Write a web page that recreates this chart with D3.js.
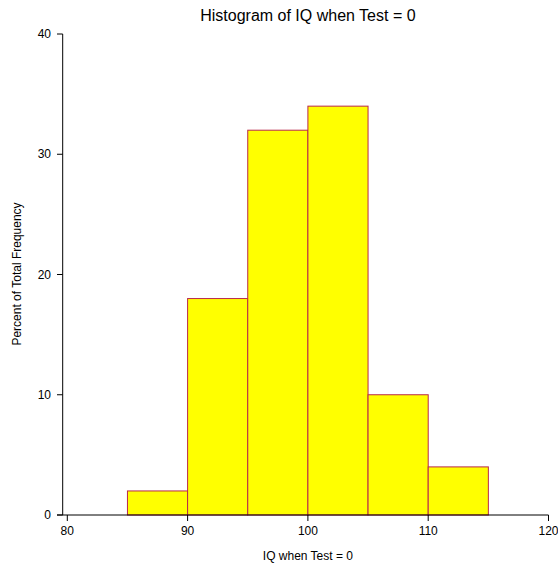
<!DOCTYPE html>
<html><head><meta charset="utf-8">
<script src="https://cdn.jsdelivr.net/npm/d3@7"></script>
<style>body{margin:0;background:#fff;} text{font-family:"Liberation Sans",Arial,sans-serif;fill:#000;}</style>
</head><body>
<script>
const binStarts = [85, 90, 95, 100, 105, 110];
const binWidth = 5;
const percents = [2, 18, 32, 34, 10, 4];
const xTicks = [80, 90, 100, 110, 120];
const yTicks = [0, 10, 20, 30, 40];

const W = 558, H = 567;
const svg = d3.select("body").append("svg").attr("width", W).attr("height", H);
const x = d3.scaleLinear().domain([80, 120]).range([67.3, 548.5]);
const y = d3.scaleLinear().domain([0, 40]).range([515, 34]);
const y0 = 62.7;

svg.selectAll("rect.bar").data(binStarts).enter().append("rect")
  .attr("x", (d) => x(d)).attr("width", (d) => x(d + binWidth) - x(d))
  .attr("y", (d, i) => y(percents[i])).attr("height", (d, i) => y(0) - y(percents[i]))
  .attr("fill", "#ffff00").attr("stroke", "#b8284a").attr("stroke-width", 1);

// x axis
const gx = svg.append("g").attr("transform", "translate(0,515)");
gx.append("line").attr("x1", 57).attr("x2", x(120)).attr("y1", 0).attr("y2", 0).attr("stroke", "#000");
gx.selectAll("line.t").data(xTicks).enter().append("line")
  .attr("x1", (d) => x(d)).attr("x2", (d) => x(d)).attr("y1", 0).attr("y2", 6).attr("stroke", "#000");
gx.selectAll("text").data(xTicks).enter().append("text")
  .attr("x", (d) => x(d)).attr("y", 20).attr("text-anchor", "middle").attr("font-size", 12).text((d) => d);

// y axis
const gy = svg.append("g");
gy.append("line").attr("x1", y0).attr("x2", y0).attr("y1", y(40)).attr("y2", y(0)).attr("stroke", "#000");
gy.selectAll("line.t").data(yTicks).enter().append("line")
  .attr("x1", 57).attr("x2", y0).attr("y1", (d) => y(d)).attr("y2", (d) => y(d)).attr("stroke", "#000");
gy.selectAll("text").data(yTicks).enter().append("text")
  .attr("x", 51).attr("y", (d) => y(d) + 4).attr("text-anchor", "end").attr("font-size", 12).text((d) => d);

svg.append("text").attr("x", (x(80) + x(120)) / 2).attr("y", 21).attr("text-anchor", "middle")
  .attr("font-size", 16).text("Histogram of IQ when Test = 0");
svg.append("text").attr("x", (x(80) + x(120)) / 2).attr("y", 560).attr("text-anchor", "middle")
  .attr("font-size", 12).text("IQ when Test = 0");
svg.append("text").attr("transform", "translate(21,274) rotate(-90)").attr("text-anchor", "middle")
  .attr("font-size", 12).text("Percent of Total Frequency");
</script>
</body></html>
